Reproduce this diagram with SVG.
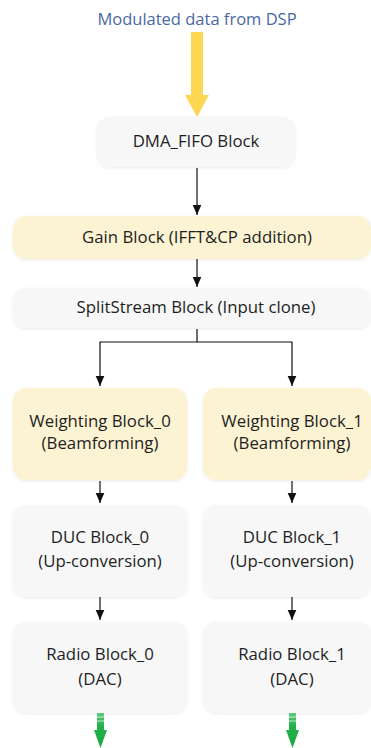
<svg xmlns="http://www.w3.org/2000/svg" width="371" height="748" viewBox="0 0 371 748">
<defs>
<style>
.t{font-family:"Open Sans","Noto Sans",sans-serif;font-size:16.8px;fill:#1e1e1e;text-anchor:middle}
.g{fill:#f7f7f7}
.y{fill:#fcf3d2}
.c{stroke:#111;stroke-width:1.2;fill:none}
</style>
<marker id="ah" markerWidth="11" markerHeight="10" refX="10.5" refY="5" orient="auto" markerUnits="userSpaceOnUse" viewBox="0 0 11 10">
<path d="M0,0.5 L10.5,5 L0,9.5 Z" fill="#111"/>
</marker>
<filter id="sh" x="-10%" y="-20%" width="120%" height="140%">
<feDropShadow dx="0" dy="1" stdDeviation="1.5" flood-color="#000" flood-opacity="0.08"/>
</filter>
<linearGradient id="gr" x1="0" y1="0" x2="0" y2="1">
<stop offset="0" stop-color="#5cc97b"/>
<stop offset="0.4" stop-color="#22b04a"/>
<stop offset="1" stop-color="#1aa83f"/>
</linearGradient>
</defs>
<text x="197" y="25" style="font-family:'Open Sans','Noto Sans',sans-serif;font-size:16.5px;fill:#4a68a4;text-anchor:middle">Modulated data from DSP</text>
<path d="M191,32 H203 V95 H209 L197,117 L185,95 H191 Z" fill="#fdd751"/>

<g id="connectors">
<line class="c" x1="197" y1="168" x2="197" y2="215" marker-end="url(#ah)"/>
<line class="c" x1="197" y1="259" x2="197" y2="287" marker-end="url(#ah)"/>
<polyline class="c" points="197,329 197,342 100,342 100,386" marker-end="url(#ah)"/>
<polyline class="c" points="197,342 292,342 292,386" marker-end="url(#ah)"/>
<line class="c" x1="100" y1="481" x2="100" y2="503" marker-end="url(#ah)"/>
<line class="c" x1="292" y1="481" x2="292" y2="503" marker-end="url(#ah)"/>
<line class="c" x1="100" y1="597" x2="100" y2="620" marker-end="url(#ah)"/>
<line class="c" x1="292" y1="597" x2="292" y2="620" marker-end="url(#ah)"/>
</g>

<g id="dma"><rect class="g" x="97" y="117" width="198" height="50" rx="13" filter="url(#sh)"/><text class="t" x="196" y="147">DMA_FIFO Block</text></g>
<g id="gain"><rect class="y" x="13" y="216" width="358" height="43" rx="13" filter="url(#sh)"/><text class="t" x="197" y="243">Gain Block (IFFT&amp;CP addition)</text></g>
<g id="split"><rect class="g" x="13" y="288" width="358" height="40" rx="13" filter="url(#sh)"/><text class="t" x="196" y="313">SplitStream Block (Input clone)</text></g>

<g id="w0"><rect class="y" x="13" y="388" width="174" height="92" rx="13" filter="url(#sh)"/><text class="t" x="100" y="427">Weighting Block_0</text><text class="t" x="100" y="449">(Beamforming)</text></g>
<g id="w1"><rect class="y" x="203" y="388" width="168" height="92" rx="13" filter="url(#sh)"/><text class="t" x="292" y="427">Weighting Block_1</text><text class="t" x="292" y="449">(Beamforming)</text></g>

<g id="duc0"><rect class="g" x="13" y="505" width="174" height="92" rx="13" filter="url(#sh)"/><text class="t" x="100" y="543">DUC Block_0</text><text class="t" x="100" y="567">(Up-conversion)</text></g>
<g id="duc1"><rect class="g" x="203" y="505" width="168" height="92" rx="13" filter="url(#sh)"/><text class="t" x="292" y="543">DUC Block_1</text><text class="t" x="292" y="567">(Up-conversion)</text></g>

<g id="r0"><rect class="g" x="13" y="622" width="174" height="91" rx="13" filter="url(#sh)"/><text class="t" x="100" y="660">Radio Block_0</text><text class="t" x="100" y="685">(DAC)</text></g>
<g id="r1"><rect class="g" x="203" y="622" width="168" height="91" rx="13" filter="url(#sh)"/><text class="t" x="292" y="660">Radio Block_1</text><text class="t" x="292" y="685">(DAC)</text></g>

<path d="M97,713 H104 V730 H107 L100.5,748 L94,730 H97 Z" fill="url(#gr)"/>
<path d="M289,713 H296 V730 H299 L292.5,748 L286,730 H289 Z" fill="url(#gr)"/>
<g stroke="#e8f8ec" stroke-width="1" opacity="0.8"><line x1="97" y1="717" x2="104" y2="717"/><line x1="97" y1="721" x2="104" y2="721"/><line x1="289" y1="717" x2="296" y2="717"/><line x1="289" y1="721" x2="296" y2="721"/></g>
</svg>
